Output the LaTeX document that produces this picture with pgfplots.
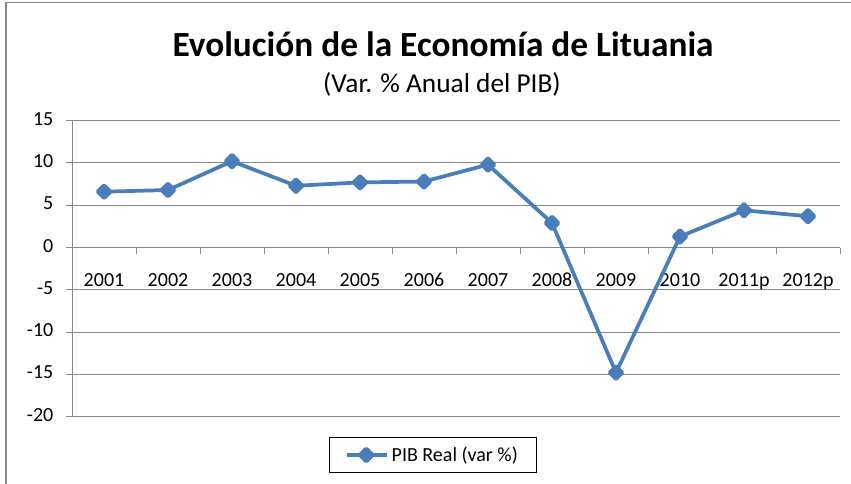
\documentclass[border=0pt]{standalone}
\usepackage{pgfplots}
\pgfplotsset{compat=1.18}
\usepackage{fontspec}
\setmainfont{Carlito}
\definecolor{excelblue}{HTML}{4A7EBB}
\definecolor{gridgray}{HTML}{888888}

\begin{document}
\begin{tikzpicture}
% page: 851x484 px at 0.75pt per px
\path[use as bounding box] (0pt,0pt) rectangle (638.25pt,363pt);
\draw[gridgray, line width=0.9pt] (4.5pt,0pt) -- (4.5pt,360.9pt) -- (640pt,360.9pt);
\node[font=\bfseries\fontsize{26.5}{30}\selectfont] at (332.25pt,329.5pt) {Evolución de la Economía de Lituania};
\node[font=\fontsize{20.5}{24}\selectfont] at (331.5pt,299.5pt) {(Var. \% Anual del PIB)};
\begin{axis}[
    at={(54pt,50.5pt)}, anchor=south west,
    width=576pt, height=222pt, scale only axis,
    xmin=-0.5, xmax=11.5, ymin=-20, ymax=15,
    axis x line=middle, axis y line=left,
    axis line style={gridgray, line width=0.75pt, -},
    ytick={-20,-15,...,15},
    ymajorgrids, grid style={gridgray, line width=0.75pt},
    xtick={-0.5,0.5,...,11.5}, xticklabels={,,,,,,,,,,,,},
    extra x ticks={0,1,...,11},
    extra x tick labels={2001,2002,2003,2004,2005,2006,2007,2008,2009,2010,2011p,2012p},
    extra x tick style={major tick length=0pt, grid=none,
        xticklabel style={yshift=-14pt}},
    typeset ticklabels with strut,
    tick align=outside, major tick length=4.5pt,
    tick style={gridgray, line width=0.75pt},
    ticklabel style={font=\fontsize{15}{17}\selectfont},
    yticklabel style={xshift=-6pt},
    /pgf/number format/assume math mode=true,
    hide obscured x ticks=false, hide obscured y ticks=false,
    legend style={at={(0.470,-0.1295)}, anchor=center, draw=black, line width=0.6pt,
        font=\fontsize{15}{17}\selectfont, inner xsep=12pt, inner ysep=5pt},
    legend image code/.code={\draw[mark repeat=2, mark phase=2, #1]
        plot coordinates {(0cm,0cm) (0.5cm,0cm) (1.05cm,0cm)};},
]
\addplot[excelblue, line width=2.8pt, line join=round,
    mark=square*, mark size=3.4pt, mark options={rotate=45, solid}] coordinates {
    (0,6.6)(1,6.8)(2,10.2)(3,7.3)(4,7.7)(5,7.8)(6,9.8)(7,2.9)(8,-14.8)(9,1.3)(10,4.4)(11,3.7)
};
\legend{PIB Real (var \%)}
\end{axis}
\end{tikzpicture}
\end{document}
